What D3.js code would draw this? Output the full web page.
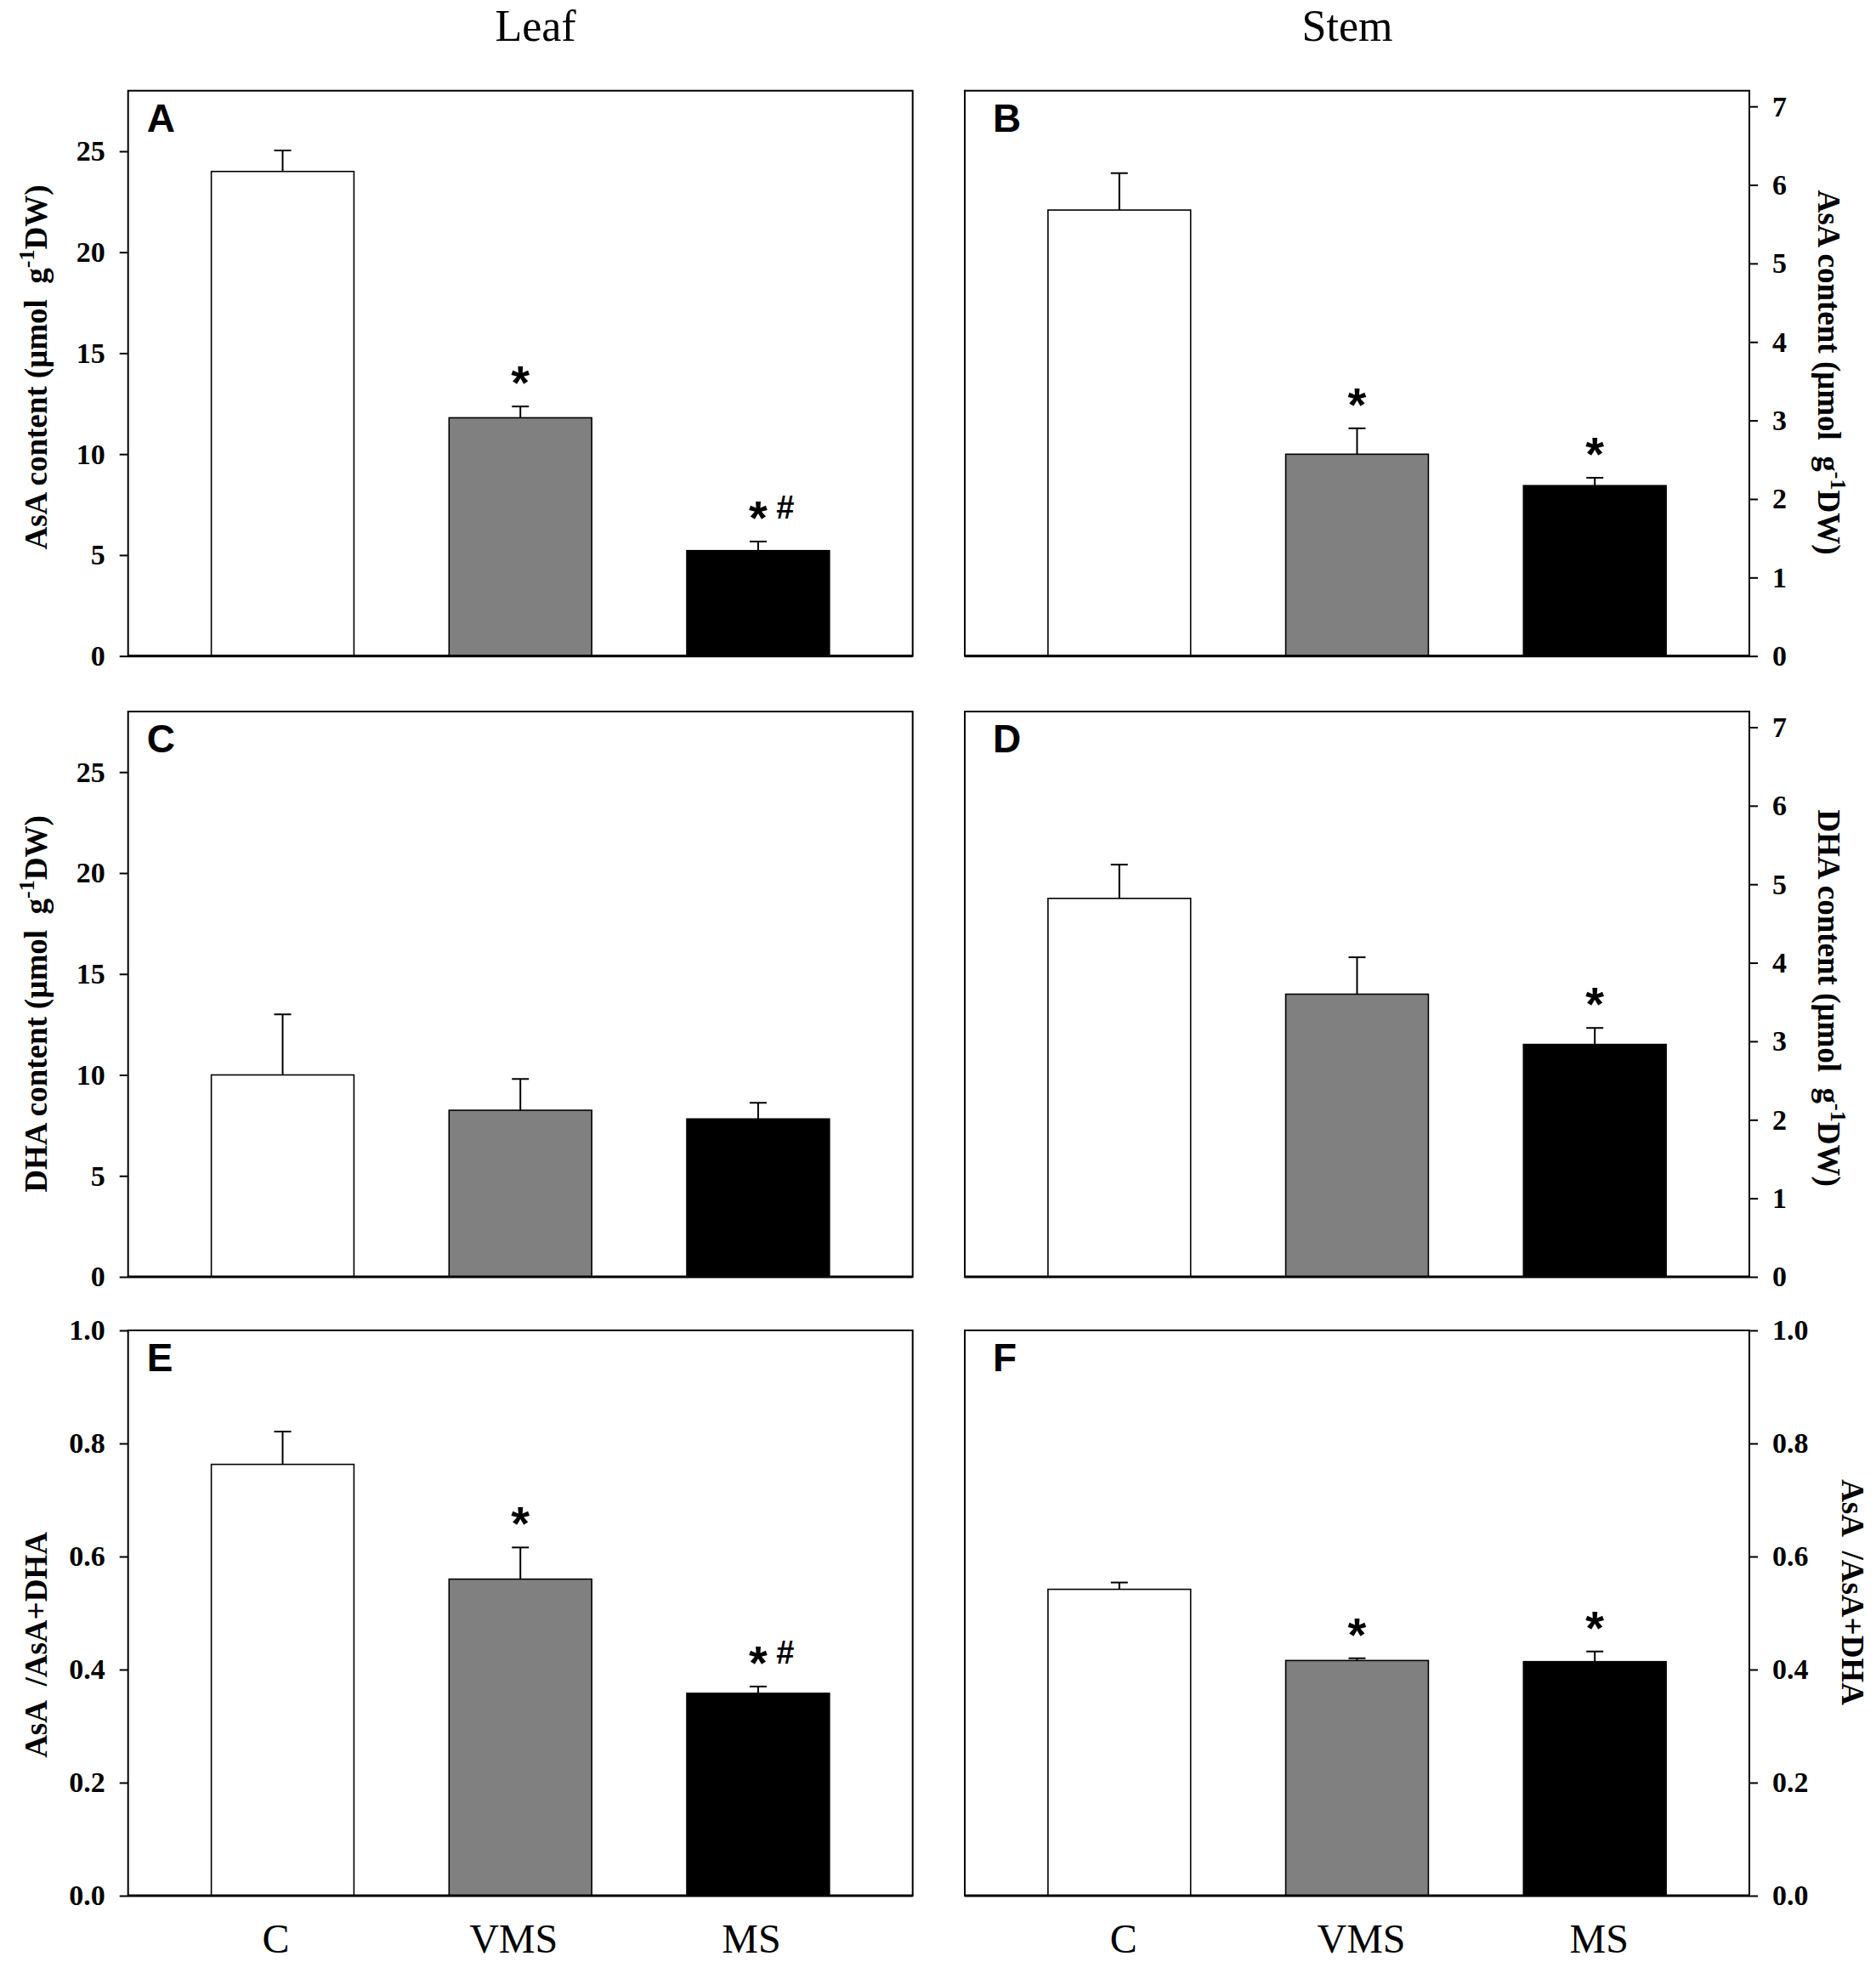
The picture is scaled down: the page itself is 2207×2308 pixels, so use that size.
<!DOCTYPE html>
<html>
<head>
<meta charset="utf-8">
<script src="https://cdn.jsdelivr.net/npm/d3@7/dist/d3.min.js"></script>
<style>
body { margin: 0; background: #fff; }
svg text { white-space: pre; }
</style>
</head>
<body>
<div id="chart"></div>
<script>
// data
var categories = ["C", "VMS", "MS"],
	barFills = ["#ffffff", "#808080", "#000000"],
	leafAsA = [24.0, 11.8, 5.22],
	leafAsAErr = [1.04, 0.56, 0.45],
	leafAsAMarks = ["", "*", "*#"],
	stemAsA = [5.68, 2.57, 2.17],
	stemAsAErr = [0.47, 0.33, 0.10],
	stemAsAMarks = ["", "*", "*"],
	leafDHA = [10.0, 8.25, 7.82],
	leafDHAErr = [3.0, 1.55, 0.8],
	leafDHAMarks = ["", "", ""],
	stemDHA = [4.82, 3.6, 2.96],
	stemDHAErr = [0.43, 0.47, 0.21],
	stemDHAMarks = ["", "", "*"],
	leafRatio = [0.763, 0.56, 0.358],
	leafRatioErr = [0.058, 0.056, 0.012],
	leafRatioMarks = ["", "*", "*#"],
	stemRatio = [0.542, 0.416, 0.414],
	stemRatioErr = [0.012, 0.004, 0.018],
	stemRatioMarks = ["", "*", "*"],
	leafTicks = [0, 5, 10, 15, 20, 25],
	stemTicks = [0, 1, 2, 3, 4, 5, 6, 7],
	ratioTicks = [0, 0.2, 0.4, 0.6, 0.8, 1.0],
	columnTitles = ["Leaf", "Stem"];

var width = 2207,
	height = 2308,
	colX = [150.7, 1135],
	rowY = [106.7, 837, 1565],
	pw = 923,
	ph = 665,
	serif = "'Liberation Serif', 'Times New Roman', serif",
	sans = "'Liberation Sans', Arial, sans-serif";

var contentTitle = ["AsA content (\u03bcmol  g", "-1", "DW)"],
	dhaTitle = ["DHA content (\u03bcmol  g", "-1", "DW)"],
	ratioTitle = ["AsA  /AsA+DHA", "", ""];

var panels = [
	{label: "A", col: 0, row: 0, max: 28, ticks: leafTicks, fmt: d3.format("d"), values: leafAsA, errs: leafAsAErr, marks: leafAsAMarks, title: contentTitle, titleX: 55, titleY: 432},
	{label: "B", col: 1, row: 0, max: 7.2, ticks: stemTicks, fmt: d3.format("d"), values: stemAsA, errs: stemAsAErr, marks: stemAsAMarks, title: contentTitle, titleX: 2139, titleY: 438},
	{label: "C", col: 0, row: 1, max: 28, ticks: leafTicks, fmt: d3.format("d"), values: leafDHA, errs: leafDHAErr, marks: leafDHAMarks, title: dhaTitle, titleX: 55, titleY: 1181},
	{label: "D", col: 1, row: 1, max: 7.2, ticks: stemTicks, fmt: d3.format("d"), values: stemDHA, errs: stemDHAErr, marks: stemDHAMarks, title: dhaTitle, titleX: 2139, titleY: 1174},
	{label: "E", col: 0, row: 2, max: 1, ticks: ratioTicks, fmt: d3.format(".1f"), values: leafRatio, errs: leafRatioErr, marks: leafRatioMarks, title: ratioTitle, titleX: 55, titleY: 1935},
	{label: "F", col: 1, row: 2, max: 1, ticks: ratioTicks, fmt: d3.format(".1f"), values: stemRatio, errs: stemRatioErr, marks: stemRatioMarks, title: ratioTitle, titleX: 2167, titleY: 1873}
];

var svg = d3.select("#chart")
	.append("svg")
	.attr("width", width)
	.attr("height", height)
	.style("display", "block");

svg.append("rect").attr("width", width).attr("height", height).attr("fill", "#fff");

var x = d3.scaleBand()
	.domain(categories)
	.range([0, pw])
	.paddingInner(0.4)
	.paddingOuter(0.35);

// column headings
svg.selectAll("text.coltitle")
	.data(columnTitles)
	.enter()
	.append("text")
	.attr("class", "coltitle")
	.attr("x", function(d, i){ return i === 0 ? 630 : 1585; })
	.attr("y", 48)
	.attr("text-anchor", "middle")
	.style("font-family", serif)
	.style("font-size", "52px")
	.text(function(d){ return d; });

panels.forEach(function(p){
	var g = svg.append("g")
		.attr("transform", "translate(" + colX[p.col] + "," + rowY[p.row] + ")");

	var y = d3.scaleLinear().domain([0, p.max]).range([ph, 0]);

	var axis = (p.col === 0 ? d3.axisLeft(y) : d3.axisRight(y))
		.tickValues(p.ticks)
		.tickFormat(p.fmt)
		.tickSize(10)
		.tickSizeOuter(0)
		.tickPadding(17);

	var ax = g.append("g")
		.attr("transform", p.col === 0 ? null : "translate(" + pw + ",0)")
		.call(axis);
	ax.select(".domain").remove();
	ax.selectAll(".tick line").attr("stroke", "#000").attr("stroke-width", 2);
	ax.selectAll(".tick text")
		.attr("fill", "#000")
		.style("font-family", serif)
		.style("font-weight", "bold")
		.style("font-size", "34px");

	// bars
	g.selectAll("rect.bar")
		.data(p.values)
		.enter()
		.append("rect")
		.attr("class", "bar")
		.attr("x", function(d, i){ return x(categories[i]); })
		.attr("width", x.bandwidth())
		.attr("y", function(d){ return y(d); })
		.attr("height", function(d){ return y(0) - y(d); })
		.attr("fill", function(d, i){ return barFills[i]; })
		.attr("stroke", "#000")
		.attr("stroke-width", 1.6);

	// error bars (upper only)
	var err = g.selectAll("g.err")
		.data(p.values)
		.enter()
		.append("g")
		.attr("class", "err")
		.attr("transform", function(d, i){ return "translate(" + (x(categories[i]) + x.bandwidth() / 2) + ",0)"; });
	err.append("line")
		.attr("x1", 0).attr("x2", 0)
		.attr("y1", function(d){ return y(d); })
		.attr("y2", function(d, i){ return y(d + p.errs[i]); })
		.attr("stroke", "#000").attr("stroke-width", 2);
	err.append("line")
		.attr("x1", -10).attr("x2", 10)
		.attr("y1", function(d, i){ return y(d + p.errs[i]); })
		.attr("y2", function(d, i){ return y(d + p.errs[i]); })
		.attr("stroke", "#000").attr("stroke-width", 2);

	// significance marks
	err.filter(function(d, i){ return p.marks[i].indexOf("*") >= 0; })
		.append("text")
		.attr("text-anchor", "middle")
		.attr("y", function(d){ var i = p.values.indexOf(d); return y(d + p.errs[i]) - 9; })
		.style("font-family", sans)
		.style("font-weight", "bold")
		.style("font-size", "56px")
		.text("*");
	err.filter(function(d, i){ return p.marks[i].indexOf("#") >= 0; })
		.append("text")
		.attr("x", 32)
		.attr("text-anchor", "middle")
		.attr("y", function(d){ var i = p.values.indexOf(d); return y(d + p.errs[i]) - 27; })
		.style("font-family", sans)
		.style("font-weight", "bold")
		.style("font-size", "38px")
		.text("#");

	// frame and zero line
	g.append("rect")
		.attr("width", pw)
		.attr("height", ph)
		.attr("fill", "none")
		.attr("stroke", "#000")
		.attr("stroke-width", 2);
	g.append("line")
		.attr("x1", 0).attr("x2", pw)
		.attr("y1", y(0)).attr("y2", y(0))
		.attr("stroke", "#000").attr("stroke-width", 3);

	// panel letter
	g.append("text")
		.attr("x", p.col === 0 ? 22 : 33)
		.attr("y", 48)
		.style("font-family", sans)
		.style("font-weight", "bold")
		.style("font-size", "46px")
		.text(p.label);

	// axis title
	var t = svg.append("text")
		.attr("transform", "translate(" + p.titleX + "," + p.titleY + ") rotate(" + (p.col === 0 ? -90 : 90) + ")")
		.attr("text-anchor", "middle")
		.style("font-family", serif)
		.style("font-weight", "bold")
		.style("font-size", "37px");
	t.append("tspan").text(p.title[0]);
	if (p.title[1]) {
		t.append("tspan").attr("dy", -15).style("font-size", "26px").text(p.title[1]);
		t.append("tspan").attr("dy", 15).text(p.title[2]);
	}
});

// category labels under the bottom row
[0, 1].forEach(function(c){
	svg.selectAll("text.cat" + c)
		.data(categories)
		.enter()
		.append("text")
		.attr("class", "cat" + c)
		.attr("x", function(d){ return colX[c] + x(d) + x.bandwidth() / 2 + (c === 0 ? -8 : 5); })
		.attr("y", 2297)
		.attr("text-anchor", "middle")
		.style("font-family", serif)
		.style("font-size", "48px")
		.text(function(d){ return d; });
});
</script>
</body>
</html>
